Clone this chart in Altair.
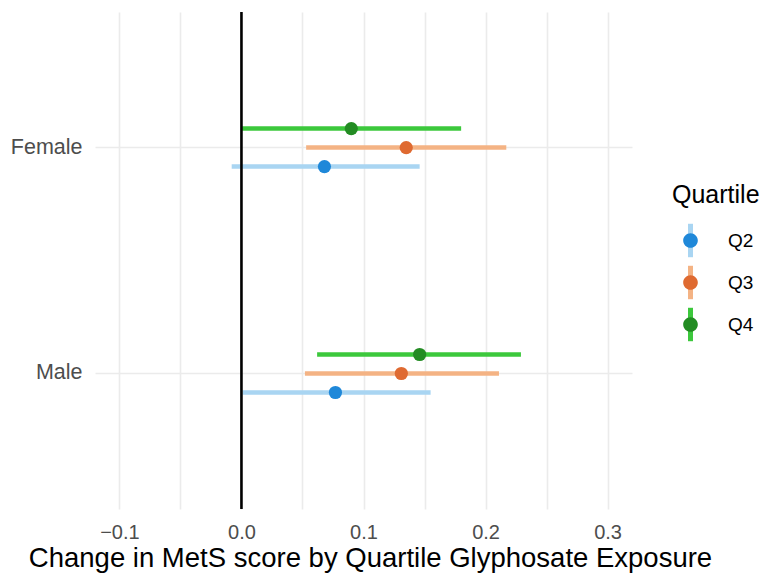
import altair as alt
import pandas as pd

# ---- data ----
sex = ["Female", "Female", "Female", "Male", "Male", "Male"]
quartile = ["Q2", "Q3", "Q4", "Q2", "Q3", "Q4"]
estimate = [0.068, 0.135, 0.090, 0.077, 0.131, 0.146]
lower = [-0.008, 0.053, 0.000, 0.001, 0.052, 0.062]
upper = [0.146, 0.217, 0.180, 0.155, 0.211, 0.229]

quartile_levels = ["Q2", "Q3", "Q4"]
point_colors = ["#1f88d9", "#df6a31", "#238c23"]
line_colors = ["#a9d5f2", "#f4b384", "#3cc83c"]
sex_levels = ["Female", "Male"]
ref_line = [0.0]
grid_values = [-0.1, -0.05, 0.0, 0.05, 0.1, 0.15, 0.2, 0.25, 0.3]

df = pd.DataFrame({"sex": sex, "quartile": quartile, "est": estimate,
                   "lo": lower, "hi": upper})
ref_df = pd.DataFrame({"x": ref_line})

FONT = "Liberation Sans"
LEG_X = 577
LEG_Y = 171
SYM = 1156
line_path = "M-0.0735,-0.91L0.0735,-0.91L0.0735,0.91L-0.0735,0.91Z"
dot_path = ("M0,-0.91L0,0.91 M-0.43,0 A0.43,0.43 0 1,0 0.43,0 "
            "A0.43,0.43 0 1,0 -0.43,0 Z")

xscale = alt.Scale(domain=[-0.12, 0.32], nice=False, zero=False)
xaxis = alt.Axis(values=grid_values, title="Change in MetS score by Quartile Glyphosate Exposure",
                 labelExpr="round(datum.value*100) % 10 == 0 ? format(datum.value, '.1f') : ''",
                 labelFontSize=20, labelColor="#4d4d4d", labelPadding=13,
                 labelFlush=False, labelOverlap=False,
                 titleFontSize=27.5, titleColor="black", titleFontWeight="normal",
                 titlePadding=2, titleX=275, ticks=False, tickSize=0, domain=False,
                 grid=True, gridColor="#ebebeb", gridWidth=1.6)
yscale = alt.Scale(domain=sex_levels, paddingInner=0, paddingOuter=0.1)
yaxis = alt.Axis(title=None, labelFontSize=21.5, labelColor="#4d4d4d", labelPadding=13,
                 ticks=False, domain=False, grid=True, gridColor="#ebebeb",
                 gridWidth=1.6, bandPosition=0.5)
yoff = alt.YOffset("quartile:N", scale=alt.Scale(domain=["Q4", "Q3", "Q2"],
                                                 range=[84.5, 141.5],
                                                 paddingInner=0, paddingOuter=0))

legend_common = dict(title="Quartile", orient="none", legendX=LEG_X, legendY=LEG_Y,
                     symbolSize=SYM, symbolStrokeWidth=2.5,
                     titleFontSize=25, titleFontWeight="normal",
                     titlePadding=14, labelFontSize=19, labelOffset=19,
                     rowPadding=1, padding=0)

base = alt.Chart(df)

bars = base.mark_rule(strokeWidth=4.5).encode(
    x=alt.X("lo:Q", scale=xscale, axis=xaxis),
    x2="hi:Q",
    y=alt.Y("sex:N", scale=yscale, axis=yaxis),
    yOffset=yoff,
    color=alt.Color("quartile:N",
                    scale=alt.Scale(domain=quartile_levels, range=line_colors),
                    legend=alt.Legend(symbolType=line_path,
                                      titleColor="black", labelColor="black",
                                      **legend_common)),
)

zero = alt.Chart(ref_df).mark_rule(color="black", strokeWidth=2.6).encode(
    x=alt.X("x:Q", scale=xscale)
)

points = base.transform_calculate(quartile_pt="datum.quartile").mark_circle(
    size=175, opacity=1
).encode(
    x=alt.X("est:Q", scale=xscale),
    y=alt.Y("sex:N", scale=yscale),
    yOffset=alt.YOffset("quartile_pt:N", scale=alt.Scale(domain=["Q4", "Q3", "Q2"],
                                                         range=[84.5, 141.5],
                                                         paddingInner=0, paddingOuter=0)),
    fill=alt.Fill("quartile_pt:N",
                  scale=alt.Scale(range=point_colors),
                  legend=alt.Legend(symbolType=dot_path,
                                    symbolStrokeColor="transparent",
                                    titleColor="rgba(0,0,0,0)",
                                    labelColor="rgba(0,0,0,0)",
                                    **legend_common)),
)

chart = alt.layer(bars, zero, points).properties(
    width=537, height=497,
    autosize=alt.AutoSizeParams(type="none"),
    padding={"left": 87, "top": 4, "right": 131, "bottom": 65},
).configure(font=FONT).configure_view(stroke=None)

chart.save("out.html", embed_options={"renderer": "svg", "actions": False})
